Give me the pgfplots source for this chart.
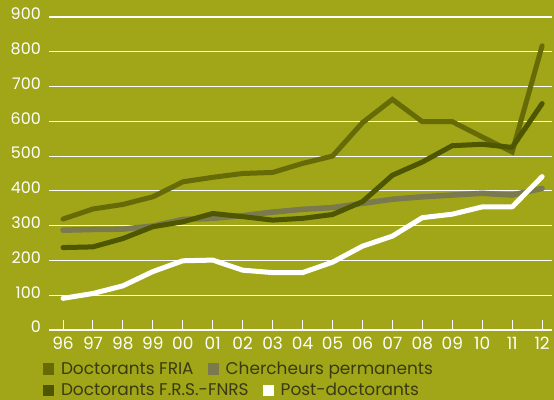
\documentclass[border=0pt]{standalone}
\usepackage{fontspec}
\setmainfont{Poppins}
\usepackage{pgfplots}
\pgfplotsset{compat=1.18}
\definecolor{fond}{HTML}{A0A617}
\definecolor{fria}{HTML}{666B07}
\definecolor{cherch}{HTML}{7A7A4E}
\definecolor{fnrs}{HTML}{4E5600}
\definecolor{legtxt}{HTML}{3B3A12}

\pgfplotsset{
  carre/.style={legend image code/.code={\fill[##1,draw=none] (0bp,-5.5bp) rectangle (11bp,5.5bp);}},
  legbox/.style={legend style={draw=none,fill=none,inner sep=0pt,outer sep=0pt,
    legend columns=-1,font=\fontsize{17}{20}\selectfont,text=legtxt,
    nodes={inner sep=0pt},
    /tikz/every odd column/.style={column sep=7bp},
    /tikz/every even column/.style={column sep=14bp}}},
  cadre/.style={at={(49bp,70bp)},anchor=south west,scale only axis,
    width=503bp,height=313bp,xmin=-0.468,xmax=16.33,ymin=0,ymax=900}
}

\begin{document}
\begin{tikzpicture}
\useasboundingbox (0,0) rectangle (554bp,400bp);
\fill[fond] (0,0) rectangle (554bp,400bp);
\begin{axis}[cadre,
  axis lines*=left,
  x axis line style={white,line width=1.2bp},
  y axis line style={draw=none},
  ytick={0,100,...,900},
  xtick={0,...,16},
  xticklabels={96,97,98,99,00,01,02,03,04,05,06,07,08,09,10,11,12},
  ymajorgrids,grid style={white,line width=1.1bp},
  tick align=inside,
  x tick style={white,line width=1bp},
  y tick style={draw=none},
  major tick length=10bp,
  /pgf/number format/assume math mode=true,
  yticklabel style={font=\fontsize{16}{18}\selectfont,text=white,anchor=east,inner sep=0pt,xshift=-8bp,yshift=3bp},
  xticklabel style={font=\fontsize{17}{20}\selectfont,text=white,anchor=north,inner sep=0pt,yshift=-7bp},
  legbox,
  legend style={at={(-0.0119,-0.1246)},anchor=west},
  clip=false,
  every axis plot/.append style={line cap=round,line join=round}]
\addplot[cherch,line width=5.5bp,forget plot] coordinates {
 (0,287)(1,289)(2,290)(3,299)(4,318)(5,321)(6,329)(7,339)(8,347)
 (9,352)(10,364)(11,376)(12,383)(13,388)(14,393)(15,388)(16,407)};
\addplot[fria,line width=5bp,line join=miter,forget plot] coordinates {
 (0,319)(1,348)(2,361)(3,383)(4,426)(5,439)(6,450)(7,453)(8,479)
 (9,500)(10,596)(11,663)(12,599)(13,599)(14,555)(15,512)(16,817)};
\addplot[fnrs,line width=5bp,forget plot] coordinates {
 (0,237)(1,239)(2,263)(3,297)(4,311)(5,335)(6,326)(7,316)(8,321)
 (9,332)(10,369)(11,445)(12,483)(13,530)(14,534)(15,525)(16,651)};
\addplot[white,line width=5bp,forget plot] coordinates {
 (0,91)(1,105)(2,127)(3,168)(4,199)(5,201)(6,172)(7,165)(8,165)
 (9,195)(10,241)(11,270)(12,323)(13,333)(14,354)(15,354)(16,441)};
\addlegendimage{carre,fill=fria}
\addlegendentry{Doctorants FRIA}
\addlegendimage{carre,fill=cherch}
\addlegendentry{Chercheurs permanents}
\end{axis}
\begin{axis}[cadre,hide axis,legbox,
  legend style={at={(-0.0119,-0.1917)},anchor=west}]
\addlegendimage{carre,fill=fnrs}
\addlegendentry{Doctorants F.R.S.-FNRS}
\addlegendimage{carre,fill=white}
\addlegendentry{Post-doctorants}
\end{axis}
\end{tikzpicture}
\end{document}
